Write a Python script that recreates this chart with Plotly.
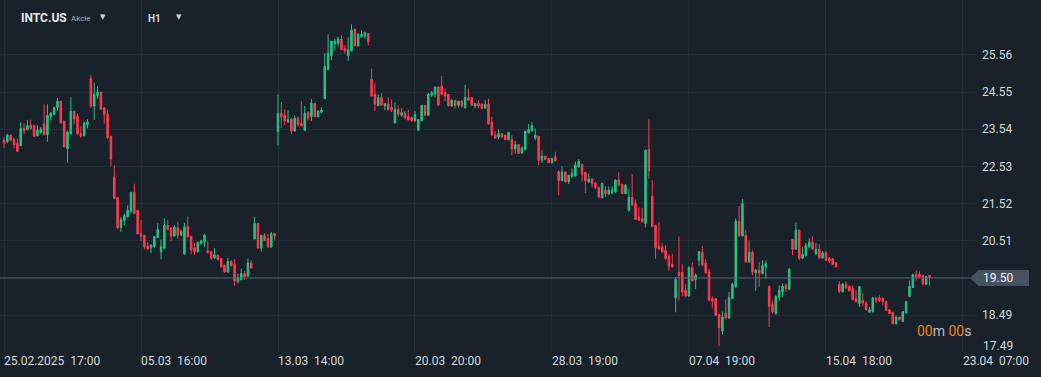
import plotly.graph_objects as go

# ---------------- data (INTC.US, H1 candles) ----------------
opens = [
    23.24, 23.20, 23.38, 23.26, 23.15, 23.09, 23.57, 23.53, 23.65, 23.64,
    23.36, 23.45, 23.69, 23.39, 23.88, 23.94, 24.13, 24.30, 23.76, 23.01,
    23.41, 24.03, 23.89, 23.42, 23.36, 23.66, 24.92, 24.17, 24.45, 24.55,
    24.12, 23.95, 23.35, 22.24, 21.69, 20.87, 21.06, 21.16, 21.29, 21.83,
    21.34, 20.71, 20.66, 20.36, 20.32, 20.34, 20.60, 20.21, 20.31, 20.93,
    20.86, 20.64, 20.87, 20.67, 20.15, 20.90, 20.63, 20.32, 20.21, 20.44,
    20.48, 20.25, 20.22, 20.05, 20.12, 20.03, 19.85, 19.66, 19.95, 19.87,
    19.41, 19.45, 19.62, 19.55, 19.91, 20.56, 20.98, 20.31, 20.66, 20.57,
    20.34, 20.71, 23.47, 23.97, 23.92, 23.74, 23.81, 23.49, 23.84, 23.70,
    23.51, 23.99, 23.88, 24.24, 23.88, 24.00, 24.37, 25.16, 25.53, 25.87,
    25.87, 25.99, 25.73, 25.53, 25.67, 26.26, 25.80, 26.05, 26.07, 26.14,
    24.89, 24.49, 24.18, 24.40, 24.17, 24.23, 24.13, 23.71, 24.08, 23.92,
    23.98, 23.89, 23.85, 23.77, 23.51, 23.77, 24.19, 23.92, 24.46, 24.49,
    24.69, 24.71, 24.53, 24.49, 24.17, 24.33, 24.19, 24.30, 24.12, 24.40,
    24.40, 24.17, 24.24, 24.22, 24.11, 24.22, 23.73, 23.38, 23.33, 23.42,
    23.38, 23.26, 23.27, 23.00, 23.12, 22.89, 22.99, 23.44, 23.49, 23.30,
    23.35, 22.70, 22.81, 22.75, 22.63, 22.79, 22.38, 22.14, 22.38, 22.11,
    22.25, 22.27, 22.52, 22.59, 22.37, 22.11, 22.19, 22.08, 21.96, 21.68,
    21.89, 21.79, 21.81, 21.84, 22.16, 22.05, 21.79, 21.34, 21.69, 21.52,
    21.16, 21.11, 20.98, 22.99, 21.72, 20.93, 20.36, 20.34, 20.25, 20.09,
    19.87, 18.96, 19.65, 19.65, 19.16, 19.01, 19.78, 19.46, 19.98, 20.20,
    19.91, 19.66, 18.94, 18.94, 18.51, 18.06, 18.55, 18.41, 18.94, 19.26,
    21.04, 20.64, 20.66, 19.93, 20.20, 19.64, 19.71, 19.62, 19.80, 19.27,
    18.78, 18.53, 18.97, 19.12, 19.30, 19.19, 20.55, 20.28, 20.80, 20.04,
    20.10, 20.34, 20.47, 20.16, 20.28, 20.04, 20.18, 20.03, 20.03, 19.92,
    19.33, 19.12, 19.33, 19.27, 19.21, 18.94, 18.80, 18.89, 18.82, 18.57,
    18.59, 18.96, 18.96, 18.94, 18.86, 18.64, 18.57, 18.26, 18.44, 18.32,
    18.55, 19.00, 19.24, 19.60, 19.60, 19.57, 19.33, 19.57,
]
highs = [
    23.33, 23.42, 23.40, 23.31, 23.29, 23.73, 23.69, 23.79, 23.80, 23.65,
    23.65, 23.60, 24.22, 24.22, 24.01, 24.15, 24.39, 24.31, 23.76, 23.50,
    24.41, 24.03, 23.97, 23.62, 23.74, 23.81, 25.01, 24.80, 24.71, 24.55,
    24.15, 24.07, 23.35, 22.56, 21.69, 21.16, 21.25, 21.47, 21.83, 22.06,
    21.34, 21.07, 20.66, 20.47, 20.42, 20.63, 20.99, 20.55, 21.12, 21.07,
    20.86, 20.94, 21.01, 20.82, 21.00, 21.17, 20.63, 20.45, 20.47, 20.54,
    20.70, 20.50, 20.22, 20.31, 20.13, 20.03, 19.85, 20.05, 19.98, 20.01,
    19.62, 19.75, 19.69, 20.03, 19.98, 21.16, 20.98, 20.66, 20.72, 20.70,
    20.75, 20.71, 24.49, 24.28, 24.08, 24.06, 23.86, 23.91, 23.89, 24.30,
    24.17, 24.04, 24.36, 24.24, 24.06, 24.13, 25.60, 26.12, 25.93, 26.00,
    26.05, 26.09, 25.82, 26.03, 26.39, 26.26, 26.14, 26.23, 26.20, 26.16,
    25.19, 24.80, 24.49, 24.52, 24.25, 24.41, 24.35, 24.27, 24.19, 24.11,
    24.04, 24.06, 23.89, 24.04, 23.82, 24.19, 24.19, 24.53, 24.58, 24.69,
    24.69, 24.99, 24.64, 24.49, 24.35, 24.33, 24.30, 24.33, 24.74, 24.65,
    24.40, 24.25, 24.33, 24.24, 24.33, 24.37, 23.88, 23.49, 23.54, 23.44,
    23.38, 23.46, 23.38, 23.22, 23.12, 23.08, 23.49, 23.68, 23.73, 23.56,
    23.35, 22.97, 22.81, 22.75, 22.76, 22.93, 22.43, 22.54, 22.40, 22.29,
    22.47, 22.66, 22.73, 22.59, 22.37, 22.34, 22.19, 22.11, 21.96, 22.09,
    21.99, 21.98, 21.99, 22.18, 22.37, 22.05, 22.05, 21.91, 22.32, 21.63,
    21.43, 21.41, 22.99, 23.81, 22.16, 20.93, 21.02, 20.45, 20.39, 20.14,
    20.16, 19.53, 20.63, 19.87, 19.33, 19.82, 19.92, 19.62, 20.22, 20.36,
    20.01, 19.75, 19.00, 18.94, 18.51, 18.59, 18.92, 19.12, 19.37, 21.11,
    21.45, 21.64, 20.80, 20.52, 20.25, 19.75, 19.94, 19.98, 19.98, 19.30,
    18.89, 19.03, 19.30, 19.35, 19.36, 19.77, 20.55, 21.01, 20.80, 20.34,
    20.45, 20.58, 20.63, 20.45, 20.42, 20.23, 20.23, 20.07, 20.03, 19.92,
    19.41, 19.37, 19.41, 19.30, 19.30, 19.17, 19.27, 19.09, 18.87, 18.71,
    18.98, 18.96, 19.03, 18.98, 18.89, 18.64, 18.57, 18.48, 18.44, 18.60,
    18.87, 19.43, 19.62, 19.71, 19.68, 19.59, 19.56, 19.57,
]
lows = [
    23.03, 23.17, 23.21, 23.02, 22.92, 23.08, 23.40, 23.51, 23.53, 23.33,
    23.35, 23.42, 23.38, 23.20, 23.77, 23.92, 24.04, 23.70, 23.05, 22.63,
    23.40, 23.67, 23.40, 23.31, 23.35, 23.56, 24.12, 23.79, 24.36, 24.06,
    23.69, 23.27, 22.54, 21.65, 20.83, 20.75, 20.93, 21.14, 21.29, 21.23,
    20.70, 20.50, 20.28, 20.27, 20.18, 20.33, 20.59, 20.01, 20.29, 20.79,
    20.51, 20.63, 20.56, 20.63, 20.14, 20.61, 20.14, 20.13, 20.20, 20.41,
    20.34, 20.17, 19.99, 20.01, 19.98, 19.79, 19.65, 19.65, 19.80, 19.28,
    19.36, 19.44, 19.44, 19.54, 19.76, 20.55, 20.31, 20.21, 20.50, 20.34,
    20.33, 20.52, 23.10, 23.58, 23.65, 23.71, 23.41, 23.48, 23.60, 23.62,
    23.50, 23.77, 23.76, 23.87, 23.87, 23.97, 24.36, 25.14, 25.41, 25.69,
    25.78, 25.69, 25.60, 25.40, 25.65, 25.79, 25.79, 26.03, 26.00, 25.82,
    24.44, 24.04, 24.17, 24.17, 24.06, 24.04, 24.01, 23.70, 23.88, 23.88,
    23.80, 23.78, 23.74, 23.74, 23.49, 23.76, 23.91, 23.91, 24.42, 24.40,
    24.18, 24.46, 24.30, 24.16, 24.15, 24.11, 24.13, 24.13, 24.11, 24.31,
    24.17, 24.11, 24.11, 24.10, 24.10, 23.67, 23.36, 23.29, 23.27, 23.29,
    23.24, 23.24, 22.83, 22.88, 22.87, 22.88, 22.97, 23.42, 23.48, 23.24,
    22.56, 22.63, 22.70, 22.63, 22.61, 22.66, 21.75, 22.13, 22.09, 22.05,
    22.23, 22.25, 22.50, 22.11, 21.81, 22.09, 21.96, 21.91, 21.66, 21.67,
    21.70, 21.75, 21.77, 21.81, 21.99, 21.78, 21.78, 21.30, 21.45, 21.07,
    21.05, 21.02, 20.87, 22.20, 20.89, 20.02, 20.27, 20.18, 19.98, 19.69,
    19.78, 18.57, 18.89, 19.00, 19.00, 19.00, 19.41, 19.20, 19.82, 19.82,
    19.62, 18.88, 18.69, 18.48, 17.65, 17.97, 18.37, 18.40, 18.93, 19.24,
    20.61, 20.63, 19.93, 19.93, 19.57, 19.15, 19.26, 19.60, 19.48, 18.17,
    18.53, 18.51, 18.87, 18.98, 19.12, 19.19, 20.12, 20.28, 19.98, 20.01,
    20.09, 20.34, 20.28, 20.12, 20.01, 20.03, 19.96, 19.91, 19.86, 19.80,
    19.09, 19.12, 19.21, 19.14, 18.89, 18.85, 18.71, 18.73, 18.62, 18.56,
    18.56, 18.82, 18.85, 18.76, 18.61, 18.52, 18.24, 18.24, 18.35, 18.31,
    18.54, 19.00, 19.23, 19.43, 19.51, 19.30, 19.32, 19.27,
]
closes = [
    23.17, 23.38, 23.24, 23.12, 22.94, 23.56, 23.50, 23.64, 23.56, 23.35,
    23.51, 23.54, 23.39, 23.92, 23.98, 24.13, 24.30, 23.71, 23.06, 23.47,
    24.03, 23.82, 23.41, 23.35, 23.71, 23.74, 24.17, 24.49, 24.55, 24.08,
    23.94, 23.31, 22.73, 21.66, 20.87, 21.09, 21.20, 21.34, 21.83, 21.25,
    20.70, 20.64, 20.34, 20.29, 20.39, 20.63, 20.82, 20.36, 20.93, 20.82,
    20.64, 20.88, 20.66, 20.76, 20.89, 20.61, 20.26, 20.21, 20.47, 20.51,
    20.66, 20.18, 20.04, 20.13, 20.00, 19.80, 19.66, 19.95, 19.84, 19.42,
    19.51, 19.62, 19.54, 19.91, 19.77, 20.98, 20.31, 20.66, 20.52, 20.34,
    20.70, 20.64, 23.97, 23.88, 23.77, 23.80, 23.49, 23.84, 23.67, 23.63,
    23.97, 23.85, 24.25, 23.88, 24.03, 24.06, 25.25, 25.60, 25.93, 25.93,
    25.99, 25.70, 25.67, 25.70, 26.23, 25.80, 26.12, 26.12, 26.16, 25.91,
    24.44, 24.22, 24.40, 24.20, 24.24, 24.07, 24.07, 24.08, 23.95, 23.99,
    23.85, 23.79, 23.77, 23.94, 23.80, 24.19, 23.92, 24.49, 24.53, 24.69,
    24.19, 24.49, 24.44, 24.17, 24.33, 24.18, 24.30, 24.17, 24.40, 24.33,
    24.19, 24.24, 24.17, 24.11, 24.22, 23.68, 23.38, 23.30, 23.42, 23.33,
    23.26, 23.45, 23.00, 23.12, 22.88, 23.03, 23.49, 23.53, 23.64, 23.38,
    22.70, 22.81, 22.72, 22.63, 22.75, 22.68, 22.14, 22.38, 22.11, 22.29,
    22.34, 22.57, 22.67, 22.32, 22.14, 22.19, 22.07, 21.96, 21.70, 22.07,
    21.79, 21.89, 21.89, 22.16, 22.02, 21.79, 22.02, 21.69, 21.48, 21.09,
    21.07, 21.02, 22.97, 22.41, 20.89, 20.32, 20.29, 20.21, 20.03, 19.82,
    19.80, 19.46, 19.57, 19.12, 19.01, 19.78, 19.42, 19.57, 20.22, 19.85,
    19.64, 18.89, 18.87, 18.49, 18.15, 18.44, 18.42, 18.97, 19.33, 21.04,
    20.66, 21.52, 19.93, 20.20, 19.66, 19.71, 19.64, 19.84, 19.89, 18.73,
    18.58, 19.00, 19.17, 19.28, 19.21, 19.74, 20.28, 20.80, 20.04, 20.14,
    20.39, 20.47, 20.28, 20.28, 20.04, 20.18, 19.98, 19.96, 19.87, 19.80,
    19.14, 19.33, 19.23, 19.15, 18.91, 18.85, 19.27, 18.82, 18.64, 18.64,
    18.96, 18.89, 18.89, 18.86, 18.62, 18.53, 18.26, 18.44, 18.37, 18.59,
    18.86, 19.27, 19.59, 19.54, 19.53, 19.34, 19.54, 19.50,
]

x_tick_bars = [0, 41, 82, 123, 164, 205, 246, 287]
x_tick_labels = ["25.02.2025\u00a0\u00a017:00", "05.03\u00a0\u00a016:00", "13.03\u00a0\u00a014:00",
                 "20.03\u00a0\u00a020:00", "28.03\u00a0\u00a019:00", "07.04\u00a0\u00a019:00",
                 "15.04\u00a0\u00a018:00", "23.04\u00a0\u00a007:00"]
y_ticks = [17.49, 18.49, 19.50, 20.51, 21.52, 22.53, 23.54, 24.55, 25.56]
last_price = 19.50
symbol = "INTC.US"
symbol_type = "Akcie"
timeframe = "H1"

# ---------------- style ----------------
BG = "#19212a"
GRID = "#242d36"
GREEN = "#26c281"
RED = "#ff3b4e"
TXT = "#d6d9dc"
FONT = "Roboto"

W, H = 1041, 377
ML, MR, MT, MB = 0, 64, 0, 25
PW = W - ML - MR          # plot width in px
PH = H - MT - MB          # plot height in px


def px(xpix):
    return xpix / PW


def py(ypix):
    return 1 - ypix / PH


bars = list(range(len(closes)))

fig = go.Figure(go.Candlestick(
    x=bars, open=opens, high=highs, low=lows, close=closes,
    increasing=dict(line=dict(color=GREEN, width=1), fillcolor=GREEN),
    decreasing=dict(line=dict(color=RED, width=1), fillcolor=RED),
    whiskerwidth=0, hoverinfo="skip", showlegend=False,
))

ytext = ["" if v in (last_price, y_ticks[0]) else f"{v:.2f}" for v in y_ticks]

fig.update_layout(
    width=W, height=H,
    margin=dict(l=ML, r=MR, t=MT, b=MB),
    paper_bgcolor=BG, plot_bgcolor=BG,
    font=dict(family=FONT, color=TXT, size=12),
    boxgap=0.35,
    showlegend=False,
    xaxis=dict(
        range=[-1.2, 291.2], tickvals=x_tick_bars, ticktext=x_tick_labels,
        showgrid=True, gridcolor=GRID, gridwidth=1, zeroline=False, showline=False,
        ticks="", ticklabelposition="outside right", tickfont=dict(size=12, color=TXT),
        rangeslider=dict(visible=False), fixedrange=True,
    ),
    yaxis=dict(
        side="right", range=[17.49, 27.05], tickvals=y_ticks, ticktext=ytext,
        showgrid=True, gridcolor=GRID, gridwidth=1, zeroline=False, showline=False,
        ticks="", ticklabelstandoff=4, tickfont=dict(size=12, color=TXT), fixedrange=True,
    ),
)

# current price line and label
fig.add_shape(type="line", xref="paper", yref="y", x0=0, x1=px(970), y0=last_price, y1=last_price,
              line=dict(color="#56626c", width=1))
hh = 0.22
fig.add_shape(type="path", xref="paper", yref="y",
              path=(f"M {px(970)},{last_price} L {px(978.5)},{last_price + hh} "
                    f"L {px(1029)},{last_price + hh} L {px(1029)},{last_price - hh} "
                    f"L {px(978.5)},{last_price - hh} Z"),
              fillcolor="#46535e", line=dict(width=0))
fig.add_annotation(xref="paper", yref="y", x=px(981), y=last_price, text=f"{last_price:.2f}",
                   showarrow=False, xanchor="left", yanchor="middle",
                   font=dict(size=12, color="#f2f4f5", family=FONT))
fig.add_annotation(xref="paper", yref="y", x=px(981), y=y_ticks[0], yshift=6, text=f"{y_ticks[0]:.2f}",
                   showarrow=False, xanchor="left", yanchor="middle",
                   font=dict(size=12, color=TXT, family=FONT))

# header
fig.add_annotation(xref="paper", yref="paper", x=px(19), y=py(18), text=f"<b>{symbol}</b>",
                   showarrow=False, xanchor="left", yanchor="middle",
                   font=dict(size=12, color="#e4e7ea", family=FONT))
fig.add_annotation(xref="paper", yref="paper", x=px(69), y=py(19), text=symbol_type,
                   showarrow=False, xanchor="left", yanchor="middle",
                   font=dict(size=8, color="#a7afb6", family=FONT))
fig.add_annotation(xref="paper", yref="paper", x=px(98), y=py(17), text="▼",
                   showarrow=False, xanchor="left", yanchor="middle",
                   font=dict(size=7, color="#cfd3d6", family="DejaVu Sans"))
fig.add_annotation(xref="paper", yref="paper", x=px(146), y=py(19), text=f"<b>{timeframe}</b>",
                   showarrow=False, xanchor="left", yanchor="middle",
                   font=dict(size=10, color="#d0d4d8", family=FONT))
fig.add_annotation(xref="paper", yref="paper", x=px(174), y=py(17), text="▼",
                   showarrow=False, xanchor="left", yanchor="middle",
                   font=dict(size=7, color="#cfd3d6", family="DejaVu Sans"))

# countdown
ORANGE = "#e8890c"
fig.add_annotation(xref="paper", yref="paper", x=px(915), y=py(331),
                   text=(f"<span style='color:{ORANGE}'>00</span>m "
                         f"<span style='color:{ORANGE}'>00</span>s"),
                   showarrow=False, xanchor="left", yanchor="middle",
                   font=dict(size=14, color="#b9bfc5", family=FONT))

fig.write_html("out.html",
               config={"displayModeBar": False, "staticPlot": True},
               post_script="document.body.style.margin='0';document.body.style.background='" + BG + "';")
